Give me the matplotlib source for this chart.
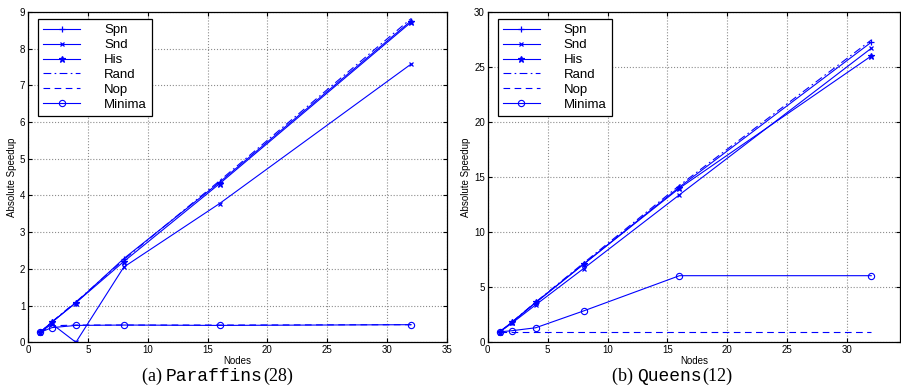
import matplotlib
matplotlib.use("Agg")
import matplotlib.pyplot as plt
from matplotlib.offsetbox import TextArea, HPacker, AnnotationBbox

plt.rcParams['font.family'] = ['Liberation Sans', 'DejaVu Sans']

nodes = [1, 2, 4, 8, 16, 32]

# Paraffins(28)
par_spn = [0.27, 0.55, 1.08, 2.28, 4.36, 8.76]
par_snd = [0.27, 0.50, 0.00, 2.05, 3.78, 7.58]
par_his = [0.27, 0.55, 1.08, 2.20, 4.32, 8.72]
par_rand = [0.27, 0.56, 1.10, 2.25, 4.40, 8.82]
par_nop = [0.27, 0.45, 0.47, 0.47, 0.47, 0.48]
par_min = [0.27, 0.40, 0.46, 0.47, 0.46, 0.48]

# Queens(12)
que_spn = [0.95, 1.80, 3.60, 7.10, 14.10, 27.25]
que_snd = [0.95, 1.72, 3.40, 6.70, 13.40, 26.70]
que_his = [0.95, 1.80, 3.62, 7.10, 14.00, 26.00]
que_rand = [0.95, 1.82, 3.65, 7.20, 14.25, 27.45]
que_nop = [0.90, 0.90, 0.90, 0.90, 0.90, 0.90]
que_min = [0.95, 1.05, 1.32, 2.85, 6.05, 6.05]

labels = ['Spn', 'Snd', 'His', 'Rand', 'Nop', 'Minima']

fig = plt.figure(figsize=(9.01, 3.90), dpi=100)
ax1 = fig.add_axes([0.0311, 0.1223, 0.465, 0.847])
ax2 = fig.add_axes([0.5413, 0.1223, 0.4576, 0.847])


def draw(ax, spn, snd, his, rand, nop, mn):
    c = 'b'
    ax.plot(nodes, spn, '-', color=c, marker='+', ms=5, lw=0.8, mew=0.9, label=labels[0])
    ax.plot(nodes, snd, '-', color=c, marker='x', ms=3.5, lw=0.8, mew=0.9, label=labels[1])
    ax.plot(nodes, his, '-', color=c, marker='*', ms=5, lw=0.8, mew=0.9, label=labels[2])
    ax.plot(nodes, rand, color=c, lw=0.8, dashes=(7, 3, 1.5, 3), label=labels[3])
    ax.plot(nodes, nop, color=c, lw=0.8, dashes=(6, 4), label=labels[4])
    ax.plot(nodes, mn, '-', color=c, marker='o', ms=4.5, mfc='none', lw=0.8, mew=0.8, label=labels[5])
    ax.grid(True, linestyle=':', color='0.55', lw=0.8)
    ax.tick_params(direction='in', top=True, right=True, labelsize=7, length=3, pad=2)
    for s in ax.spines.values():
        s.set_linewidth(0.9)
    ax.set_xlabel('Nodes', fontsize=7, labelpad=1)
    ax.set_ylabel('Absolute Speedup', fontsize=7, labelpad=2)
    leg = ax.legend(loc='upper left', fontsize=9.5, handlelength=2.8, handletextpad=1.8,
                    labelspacing=0.2, fancybox=False, edgecolor='k', framealpha=1,
                    borderpad=0.4, borderaxespad=0, bbox_to_anchor=(0.024, 0.979))
    leg.get_frame().set_linewidth(0.9)


draw(ax1, par_spn, par_snd, par_his, par_rand, par_nop, par_min)
ax1.set_xlim(0, 35)
ax1.set_ylim(0, 9)
ax1.set_xticks(range(0, 36, 5))
ax1.set_yticks(range(0, 10))

draw(ax2, que_spn, que_snd, que_his, que_rand, que_nop, que_min)
ax2.set_xlim(0, 34.4)
ax2.set_ylim(0, 30)
ax2.set_xticks(range(0, 31, 5))
ax2.set_yticks(range(0, 31, 5))


def caption(x, pre, mono, post):
    parts = [TextArea(pre, textprops=dict(family='Liberation Serif', size=13)),
             TextArea(mono, textprops=dict(family='Liberation Mono', size=13)),
             TextArea(post, textprops=dict(family='Liberation Serif', size=13))]
    box = HPacker(children=parts, pad=0, sep=0, align='baseline')
    ab = AnnotationBbox(box, (x, 0.035), xycoords='figure fraction', frameon=False,
                        box_alignment=(0.5, 0.5))
    fig.add_artist(ab)


caption(0.241, '(a) ', 'Paraffins', '(28)')
caption(0.746, '(b) ', 'Queens', '(12)')

fig.savefig('out.png', dpi=100)
